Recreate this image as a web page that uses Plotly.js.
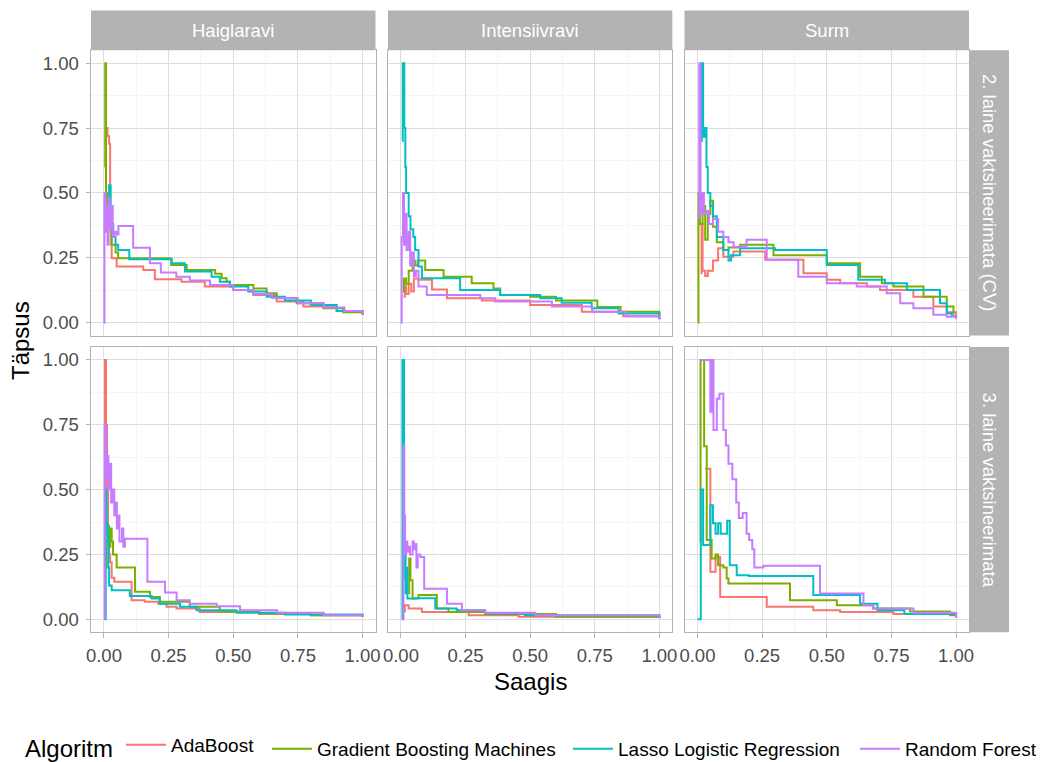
<!DOCTYPE html>
<html>
<head>
<meta charset="utf-8">
<script src="https://cdn.plot.ly/plotly-3.0.1.min.js"></script>
<style>html,body{margin:0;padding:0;background:#fff;}#chart{width:1040px;height:762px;}</style>
</head>
<body>
<div id="chart"></div>
<script>
// ---------- facets / labels ----------
const colFacets = ['Haiglaravi', 'Intensiivravi', 'Surm'];
const rowFacets = ['2. laine vaktsineerimata (CV)', '3. laine vaktsineerimata'];
const algorithms = ['AdaBoost', 'Gradient Boosting Machines', 'Lasso Logistic Regression', 'Random Forest'];
const tickValues = [0, 0.25, 0.5, 0.75, 1];
const tickLabels = ['0.00', '0.25', '0.50', '0.75', '1.00'];
const xTitle = 'Saagis';
const yTitle = 'Täpsus';
const legendTitle = 'Algoritm';

// ---------- row 1 (2. laine, CV) : Haiglaravi ----------
const H2_Ada_recall = [0.005,0.008,0.014,0.02,0.024,0.028,0.03,0.049,0.152,0.197,0.3,0.39,0.5,0.577,0.668,0.771,0.9,1.0];
const H2_Ada_prec   = [0.55,0.75,0.72,0.69,0.45,0.3,0.248,0.216,0.203,0.167,0.158,0.139,0.126,0.107,0.081,0.062,0.045,0.03];
const H2_GBM_recall = [0.003,0.005,0.008,0.012,0.02,0.03,0.045,0.055,0.26,0.32,0.43,0.455,0.474,0.487,0.578,0.629,0.668,0.745,0.848,0.925,1.0];
const H2_GBM_prec   = [0.6,1.0,0.5,0.42,0.36,0.3,0.27,0.248,0.222,0.203,0.188,0.171,0.158,0.145,0.132,0.113,0.094,0.075,0.055,0.04,0.03];
const H2_LLR_recall = [0.012,0.017,0.02,0.026,0.03,0.036,0.045,0.055,0.098,0.262,0.313,0.416,0.448,0.487,0.558,0.629,0.7,0.8,0.9,1.0];
const H2_LLR_prec   = [0.35,0.45,0.53,0.45,0.38,0.33,0.3,0.28,0.244,0.229,0.197,0.177,0.158,0.139,0.12,0.1,0.085,0.068,0.045,0.03];
const H2_RF_recall  = [0,0.002,0.006,0.01,0.014,0.018,0.022,0.028,0.034,0.04,0.048,0.056,0.113,0.178,0.22,0.28,0.332,0.41,0.5,0.577,0.65,0.75,0.85,0.93,1.0];
const H2_RF_prec    = [0,0.5,0.35,0.45,0.3,0.48,0.36,0.45,0.33,0.35,0.34,0.373,0.289,0.229,0.193,0.177,0.162,0.145,0.126,0.11,0.095,0.075,0.058,0.045,0.03];

// ---------- row 1 : Intensiivravi ----------
const I2_Ada_recall = [0.01,0.015,0.02,0.03,0.04,0.05,0.068,0.12,0.178,0.313,0.5,0.7,0.86,1.0];
const I2_Ada_prec   = [0.1,0.14,0.11,0.15,0.12,0.17,0.165,0.128,0.094,0.085,0.068,0.042,0.025,0.015];
const I2_GBM_recall = [0.008,0.012,0.02,0.03,0.045,0.055,0.065,0.094,0.165,0.274,0.358,0.384,0.5,0.6,0.76,0.85,1.0];
const I2_GBM_prec   = [0.12,0.17,0.15,0.2,0.24,0.22,0.24,0.203,0.177,0.152,0.132,0.107,0.1,0.085,0.06,0.042,0.015];
const I2_LLR_recall = [0.005,0.007,0.013,0.017,0.02,0.03,0.037,0.048,0.055,0.068,0.081,0.229,0.384,0.539,0.622,0.738,0.842,1.0];
const I2_LLR_prec   = [0.7,1.0,0.75,0.6,0.5,0.41,0.36,0.33,0.28,0.216,0.171,0.126,0.107,0.094,0.077,0.055,0.035,0.013];
const I2_RF_recall  = [0,0.003,0.008,0.012,0.016,0.022,0.03,0.036,0.042,0.05,0.058,0.068,0.1,0.307,0.365,0.584,0.74,0.87,1.0];
const I2_RF_prec    = [0,0.33,0.5,0.3,0.42,0.28,0.35,0.22,0.27,0.18,0.2,0.139,0.107,0.094,0.081,0.062,0.042,0.025,0.013];

// ---------- row 1 : Surm ----------
const S2_Ada_recall = [0.012,0.016,0.02,0.03,0.04,0.06,0.08,0.1,0.139,0.262,0.41,0.5,0.552,0.655,0.706,0.835,0.912,0.964,1.0];
const S2_Ada_prec   = [0.19,0.38,0.2,0.18,0.2,0.24,0.287,0.254,0.274,0.242,0.19,0.165,0.152,0.139,0.126,0.1,0.062,0.04,0.017];
const S2_GBM_recall = [0.003,0.004,0.01,0.02,0.03,0.04,0.05,0.06,0.075,0.1,0.12,0.165,0.294,0.5,0.629,0.713,0.758,0.874,0.964,0.99];
const S2_GBM_prec   = [0,0.5,0.38,0.45,0.32,0.42,0.47,0.37,0.31,0.28,0.29,0.3,0.26,0.229,0.177,0.152,0.139,0.1,0.062,0.03];
const S2_LLR_recall = [0.015,0.017,0.022,0.028,0.035,0.04,0.05,0.06,0.075,0.1,0.12,0.13,0.165,0.3,0.5,0.622,0.725,0.81,0.938,0.964,0.983,1.0];
const S2_LLR_prec   = [0.7,1.0,0.717,0.75,0.6,0.5,0.45,0.41,0.33,0.28,0.24,0.26,0.287,0.28,0.222,0.165,0.152,0.126,0.075,0.036,0.025,0.023];
const S2_RF_recall  = [0.005,0.007,0.012,0.018,0.025,0.035,0.045,0.06,0.08,0.1,0.12,0.14,0.19,0.268,0.39,0.5,0.616,0.732,0.784,0.835,0.912,0.964,1.0];
const S2_RF_prec    = [0.4,1.0,0.42,0.5,0.42,0.43,0.38,0.4,0.35,0.33,0.31,0.293,0.32,0.242,0.177,0.152,0.139,0.113,0.075,0.055,0.03,0.023,0.013];

// ---------- row 2 (3. laine) : Haiglaravi ----------
const H3_Ada_recall = [0.003,0.004,0.008,0.012,0.016,0.02,0.024,0.03,0.04,0.107,0.158,0.21,0.242,0.281,0.37,0.6,0.8,1.0];
const H3_Ada_prec   = [0.5,1.0,0.75,0.5,0.35,0.25,0.22,0.16,0.145,0.073,0.067,0.06,0.048,0.041,0.028,0.02,0.015,0.01];
const H3_GBM_recall = [0.005,0.01,0.015,0.02,0.025,0.03,0.035,0.049,0.12,0.178,0.216,0.332,0.448,0.6,0.8,1.0];
const H3_GBM_prec   = [0.2,0.3,0.36,0.28,0.35,0.3,0.25,0.2,0.106,0.086,0.067,0.048,0.03,0.022,0.015,0.01];
const H3_LLR_recall = [0.006,0.007,0.01,0.014,0.017,0.02,0.03,0.1,0.184,0.216,0.294,0.358,0.513,0.7,1.0];
const H3_LLR_prec   = [0,0.5,0.37,0.33,0.2,0.13,0.112,0.09,0.08,0.06,0.048,0.035,0.025,0.018,0.01];
const H3_RF_recall  = [0,0.003,0.008,0.012,0.017,0.022,0.028,0.033,0.04,0.045,0.05,0.055,0.06,0.07,0.075,0.081,0.168,0.236,0.281,0.332,0.436,0.526,0.67,0.85,1.0];
const H3_RF_prec    = [0,0.75,0.55,0.63,0.5,0.6,0.45,0.5,0.4,0.45,0.35,0.4,0.3,0.35,0.28,0.31,0.145,0.103,0.073,0.06,0.05,0.035,0.025,0.015,0.01];

// ---------- row 2 : Intensiivravi ----------
const I3_Ada_recall = [0.005,0.008,0.012,0.015,0.03,0.081,0.262,0.455,1.0];
const I3_Ada_prec   = [0.02,0.054,0.03,0.054,0.041,0.028,0.015,0.01,0.004];
const I3_GBM_recall = [0.028,0.032,0.037,0.045,0.068,0.139,0.184,0.326,0.6,1.0];
const I3_GBM_prec   = [0.1,0.234,0.15,0.08,0.093,0.041,0.028,0.02,0.01,0.005];
const I3_LLR_recall = [0.004,0.006,0.012,0.015,0.018,0.022,0.025,0.055,0.133,0.216,0.326,0.48,1.0];
const I3_LLR_prec   = [0,1.0,0.157,0.25,0.1,0.2,0.08,0.081,0.041,0.035,0.022,0.015,0.005];
const I3_RF_recall  = [0.003,0.01,0.013,0.016,0.02,0.025,0.03,0.035,0.045,0.05,0.055,0.06,0.065,0.075,0.09,0.178,0.236,0.326,0.52,1.0];
const I3_RF_prec    = [0,0.67,0.4,0.25,0.3,0.26,0.28,0.25,0.3,0.27,0.29,0.2,0.25,0.24,0.118,0.06,0.035,0.025,0.015,0.005];

// ---------- row 2 : Surm ----------
const S3_Ada_recall = [0.03,0.05,0.07,0.088,0.268,0.448,0.552,0.758,1.0];
const S3_Ada_prec   = [0.58,0.183,0.24,0.086,0.048,0.035,0.028,0.02,0.005];
const S3_GBM_recall = [0.01,0.012,0.026,0.036,0.055,0.07,0.08,0.1,0.113,0.12,0.358,0.539,0.68,0.822,0.977,1.0];
const S3_GBM_prec   = [0.3,1.0,0.667,0.306,0.234,0.25,0.208,0.2,0.157,0.138,0.073,0.054,0.041,0.03,0.015,0.005];
const S3_LLR_recall = [0,0.013,0.022,0.05,0.06,0.07,0.08,0.09,0.115,0.125,0.152,0.2,0.448,0.629,0.696,0.8,1.0];
const S3_LLR_prec   = [0,0.5,0.286,0.44,0.37,0.33,0.37,0.33,0.38,0.208,0.17,0.167,0.093,0.06,0.035,0.02,0.005];
const S3_RF_recall  = [0.013,0.05,0.055,0.062,0.075,0.085,0.1,0.11,0.12,0.135,0.15,0.16,0.175,0.19,0.2,0.212,0.22,0.255,0.474,0.642,0.68,0.835,1.0];
const S3_RF_prec    = [1.0,0.8,1.0,0.73,0.85,0.87,0.73,0.67,0.6,0.54,0.45,0.39,0.41,0.33,0.306,0.27,0.2,0.206,0.099,0.054,0.041,0.025,0.005];

// ---------- assemble ----------
const colors = ['#F8766D', '#7CAE00', '#00BFC4', '#C77CFF'];
const panelSeries = [
  [[H2_Ada_recall,H2_Ada_prec],[H2_GBM_recall,H2_GBM_prec],[H2_LLR_recall,H2_LLR_prec],[H2_RF_recall,H2_RF_prec]],
  [[I2_Ada_recall,I2_Ada_prec],[I2_GBM_recall,I2_GBM_prec],[I2_LLR_recall,I2_LLR_prec],[I2_RF_recall,I2_RF_prec]],
  [[S2_Ada_recall,S2_Ada_prec],[S2_GBM_recall,S2_GBM_prec],[S2_LLR_recall,S2_LLR_prec],[S2_RF_recall,S2_RF_prec]],
  [[H3_Ada_recall,H3_Ada_prec],[H3_GBM_recall,H3_GBM_prec],[H3_LLR_recall,H3_LLR_prec],[H3_RF_recall,H3_RF_prec]],
  [[I3_Ada_recall,I3_Ada_prec],[I3_GBM_recall,I3_GBM_prec],[I3_LLR_recall,I3_LLR_prec],[I3_RF_recall,I3_RF_prec]],
  [[S3_Ada_recall,S3_Ada_prec],[S3_GBM_recall,S3_GBM_prec],[S3_LLR_recall,S3_LLR_prec],[S3_RF_recall,S3_RF_prec]]
];

const W = 1040, H = 762;
const FONT = 'Liberation Sans, Arial, Helvetica, sans-serif';
const colPx = [[91, 375.5], [388, 672.3], [684.5, 969]];
const rowPx = [[50.3, 335.6], [347, 632.2]];
const px2x = p => p / W;
const px2y = p => 1 - p / H;
const legendIds = ['legend', 'legend2', 'legend3', 'legend4'];
const legendLeftPx = [23, 267, 568, 855];
const legendMidPx = [747, 749, 749, 749];

const traces = [];
for (let a = 0; a < 4; a++) {
  for (let p = 0; p < 6; p++) {
    const s = panelSeries[p][a];
    traces.push({
      type: 'scatter', mode: 'lines',
      x: s[0], y: s[1],
      xaxis: 'x' + (p + 1), yaxis: 'y' + (p + 1),
      line: { color: colors[a], width: 2, shape: 'hv' },
      name: algorithms[a], legendgroup: algorithms[a], legend: legendIds[a],
      showlegend: p === 0,
      hoverinfo: 'skip'
    });
  }
}

const layout = {
  width: W, height: H,
  margin: { l: 0, r: 0, t: 0, b: 0, autoexpand: false },
  paper_bgcolor: '#FFFFFF', plot_bgcolor: '#FFFFFF',
  font: { family: FONT, color: '#000000' },
  showlegend: true,
  shapes: [], annotations: []
};
for (let a = 0; a < 4; a++) {
  const lg = {
    orientation: 'h', x: px2x(legendLeftPx[a]), xanchor: 'left', y: px2y(legendMidPx[a]), yanchor: 'middle',
    font: { size: 19, color: '#000000', family: FONT },
    itemwidth: 40, bgcolor: 'rgba(0,0,0,0)', borderwidth: 0
  };
  if (a === 0) lg.title = { text: legendTitle, side: 'left', font: { size: 24, family: FONT, color: '#000000' } };
  layout[legendIds[a]] = lg;
}

for (let p = 0; p < 6; p++) {
  const r = Math.floor(p / 3), c = p % 3;
  const common = {
    range: [-0.05, 1.05],
    tickvals: tickValues, ticktext: tickLabels,
    ticklen: 4.5, tickcolor: '#B3B3B3', tickwidth: 1,
    tickfont: { size: 18.5, color: '#4D4D4D', family: FONT },
    showgrid: true, gridcolor: '#DEDEDE', gridwidth: 1,
    minor: { tickvals: [0.125, 0.375, 0.625, 0.875], showgrid: true, gridcolor: '#EFEFEF', gridwidth: 0.6, ticks: '' },
    showline: true, mirror: true, linecolor: '#B3B3B3', linewidth: 1,
    zeroline: false, fixedrange: true
  };
  const ax = Object.assign({}, common, {
    domain: [px2x(colPx[c][0]), px2x(colPx[c][1])], anchor: 'y' + (p + 1),
    showticklabels: r === 1, ticks: r === 1 ? 'outside' : '', ticklabelstandoff: 2
  });
  const ay = Object.assign({}, common, {
    domain: [px2y(rowPx[r][1]), px2y(rowPx[r][0])], anchor: 'x' + (p + 1),
    showticklabels: c === 0, ticks: c === 0 ? 'outside' : '', ticklabelstandoff: 3
  });
  layout['xaxis' + (p === 0 ? '' : p + 1)] = ax;
  layout['yaxis' + (p === 0 ? '' : p + 1)] = ay;
}

// top strips
for (let c = 0; c < 3; c++) {
  layout.shapes.push({ type: 'rect', xref: 'paper', yref: 'paper', layer: 'below',
    x0: px2x(colPx[c][0]), x1: px2x(colPx[c][1]), y0: px2y(50.3), y1: px2y(10.5),
    fillcolor: '#B3B3B3', line: { width: 0 } });
  layout.annotations.push({ xref: 'paper', yref: 'paper', showarrow: false,
    x: px2x((colPx[c][0] + colPx[c][1]) / 2), y: px2y(30.4), xanchor: 'center', yanchor: 'middle',
    text: colFacets[c], font: { size: 18.5, color: '#FFFFFF', family: FONT } });
}
// right strips
for (let r = 0; r < 2; r++) {
  layout.shapes.push({ type: 'rect', xref: 'paper', yref: 'paper', layer: 'below',
    x0: px2x(969), x1: px2x(1009), y0: px2y(rowPx[r][1]), y1: px2y(rowPx[r][0]),
    fillcolor: '#B3B3B3', line: { width: 0 } });
  layout.annotations.push({ xref: 'paper', yref: 'paper', showarrow: false, textangle: 90,
    x: px2x(989), y: px2y((rowPx[r][0] + rowPx[r][1]) / 2), xanchor: 'center', yanchor: 'middle',
    text: rowFacets[r], font: { size: 18.5, color: '#FFFFFF', family: FONT } });
}
// axis titles
layout.annotations.push({ xref: 'paper', yref: 'paper', showarrow: false,
  x: px2x(530), y: px2y(681), xanchor: 'center', yanchor: 'middle',
  text: xTitle, font: { size: 24, color: '#000000', family: FONT } });
layout.annotations.push({ xref: 'paper', yref: 'paper', showarrow: false, textangle: -90,
  x: px2x(21), y: px2y(341), xanchor: 'center', yanchor: 'middle',
  text: yTitle, font: { size: 24, color: '#000000', family: FONT } });

Plotly.newPlot('chart', traces, layout, { staticPlot: true, displayModeBar: false });
</script>
</body>
</html>
